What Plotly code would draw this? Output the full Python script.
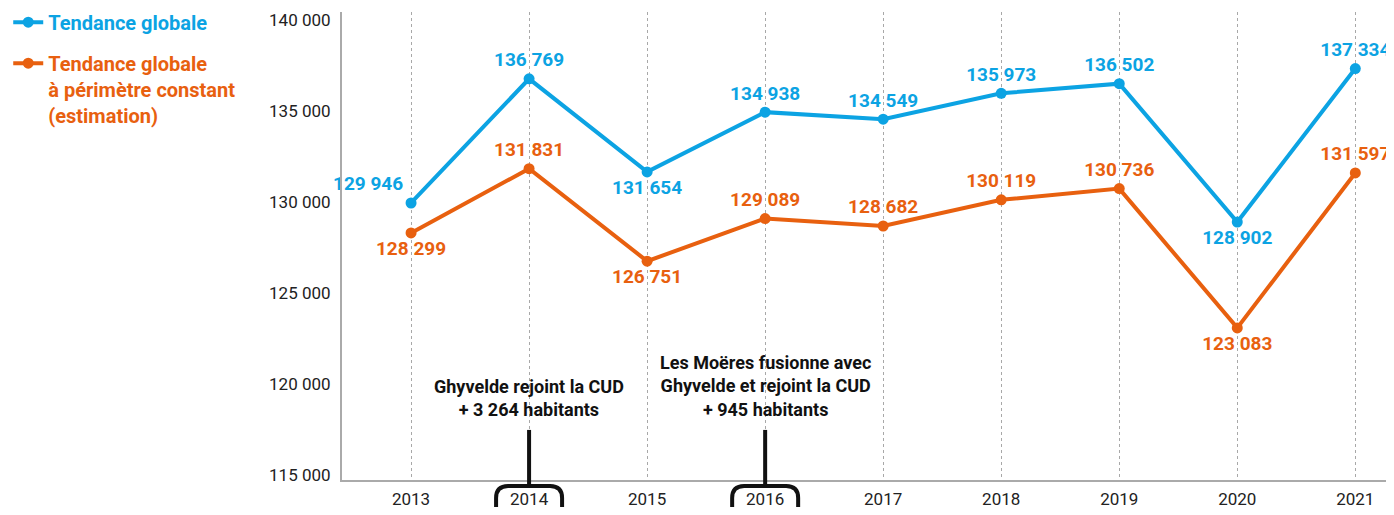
import plotly.graph_objects as go

years = [2013, 2014, 2015, 2016, 2017, 2018, 2019, 2020, 2021]
global_trend = [129946, 136769, 131654, 134938, 134549, 135973, 136502, 128902, 137334]
constant_scope = [128299, 131831, 126751, 129089, 128682, 130119, 130736, 123083, 131597]
global_pos = ["top left", "top center", "bottom center", "top center", "top center",
              "top center", "top center", "bottom center", "top center"]
constant_pos = ["bottom center", "top center", "bottom center", "top center", "top center",
                "top center", "top center", "bottom center", "top center"]
y_ticks = [115000, 120000, 125000, 130000, 135000, 140000]

events = [
    (2014, "Ghyvelde rejoint la CUD<br>+ 3 264 habitants"),
    (2016, "Les Moëres fusionne avec<br>Ghyvelde et rejoint la CUD<br>+ 945 habitants"),
]

BLUE = "#0ca3e3"
ORANGE = "#e8600f"
FONT = "Roboto"


def fmt(v):
    return f"{v:,}".replace(",", " ")


fig = go.Figure()

fig.add_trace(go.Scatter(
    x=years, y=global_trend, mode="lines+markers+text",
    line=dict(color=BLUE, width=4), marker=dict(size=11, color=BLUE),
    text=[fmt(v) for v in global_trend], textposition=global_pos,
    textfont=dict(family=FONT, size=19, color=BLUE, weight="bold"),
    cliponaxis=False, legendgroup="a",
    name=f"<span style='color:{BLUE}'><b>Tendance globale</b></span>",
))
fig.add_trace(go.Scatter(
    x=years, y=constant_scope, mode="lines+markers+text",
    line=dict(color=ORANGE, width=4), marker=dict(size=11, color=ORANGE),
    text=[fmt(v) for v in constant_scope], textposition=constant_pos,
    textfont=dict(family=FONT, size=19, color=ORANGE, weight="bold"),
    cliponaxis=False, legendgroup="b",
    name=(f"<span style='color:{ORANGE}'><b>Tendance globale<br>"
          f"à périmètre constant<br>(estimation)</b></span>"),
))

for yr, label in events:
    fig.add_annotation(
        x=yr, y=0.123, xref="x", yref="paper", yanchor="bottom",
        text=f"<b>{label}</b>", showarrow=False, align="center",
        font=dict(family=FONT, size=18, color="#111"),
    )
    fig.add_shape(type="line", xref="x", yref="paper", x0=yr, x1=yr,
                  y0=-0.012, y1=0.107, line=dict(color="#111", width=4))
    fig.add_shape(
        type="path", xref="x", yref="paper", xsizemode="pixel", ysizemode="pixel",
        xanchor=yr, yanchor=0,
        path="M -33,-45 L -33,-18 Q -33,-6 -21,-6 L 21,-6 Q 33,-6 33,-18 L 33,-45",
        line=dict(color="#111", width=4),
    )

# the page body adds an 8px margin all round; keep the page from scrolling
fig.update_layout(
    width=1386, height=499,
    margin=dict(l=334, r=8, t=4, b=27, autoexpand=False),
    plot_bgcolor="white", paper_bgcolor="white",
    separators=", ",
    font=dict(family=FONT, size=17, color="#222"),
    showlegend=True,
    legend=dict(
        x=-0.3197, y=1.02, xanchor="left", yanchor="top", valign="top",
        font=dict(family=FONT, size=20), tracegroupgap=12,
        bgcolor="rgba(0,0,0,0)",
    ),
    xaxis=dict(
        range=[2012.415, 2021.26], tickvals=years, ticktext=[str(y) for y in years],
        showgrid=True, gridcolor="#a8a8a8", griddash="dot", gridwidth=1.3,
        showline=True, linecolor="#aaaaaa", linewidth=2, zeroline=False,
        ticks="", tickfont=dict(size=17, color="#222"), ticklabelstandoff=3,
    ),
    yaxis=dict(
        range=[114725, 140440], tickvals=y_ticks, tickformat=",d",
        showgrid=False, showline=True, linecolor="#aaaaaa", linewidth=2,
        zeroline=False, ticks="", tickfont=dict(size=17, color="#222"),
        ticklabelstandoff=6,
    ),
)

fig.write_html("out.html")
